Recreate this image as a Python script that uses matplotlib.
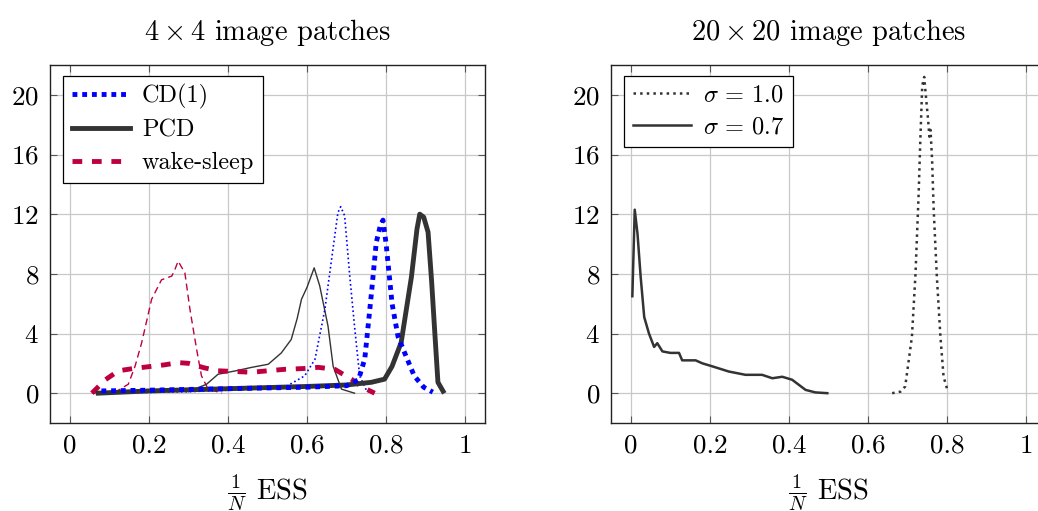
import matplotlib
matplotlib.use('Agg')
import matplotlib.pyplot as plt
import numpy as np

plt.rcParams['font.family'] = 'cmr10'
plt.rcParams['mathtext.fontset'] = 'cm'
plt.rcParams['axes.formatter.use_mathtext'] = True

# ---- data ----
# left panel: 4x4 patches
cd_thick_x = [0.08, 0.2, 0.4, 0.6, 0.7, 0.73, 0.746, 0.763, 0.775, 0.785, 0.792, 0.80, 0.815, 0.83, 0.85, 0.871, 0.895, 0.918]
cd_thick_y = [0.15, 0.2, 0.3, 0.4, 0.5, 0.9, 2.3, 6.75, 10.1, 11.2, 11.6, 10.0, 6.0, 3.8, 2.5, 1.16, 0.4, 0.07]

pcd_thick_x = [0.072, 0.2, 0.4, 0.6, 0.7, 0.763, 0.796, 0.815, 0.838, 0.864, 0.878, 0.885, 0.895, 0.906, 0.915, 0.922, 0.931, 0.944]
pcd_thick_y = [0.0, 0.15, 0.3, 0.45, 0.55, 0.73, 0.94, 1.8, 3.4, 7.8, 11.0, 12.0, 11.8, 10.8, 7.5, 4.5, 0.73, 0.13]

ws_thick_x = [0.056, 0.09, 0.123, 0.16, 0.207, 0.24, 0.274, 0.3, 0.34, 0.375, 0.42, 0.46, 0.5, 0.544, 0.59, 0.628, 0.67, 0.712, 0.74, 0.771]
ws_thick_y = [0.0, 0.9, 1.5, 1.65, 1.8, 1.9, 2.05, 2.0, 1.7, 1.5, 1.45, 1.4, 1.5, 1.6, 1.65, 1.73, 1.6, 0.94, 0.4, 0.0]

cd_thin_x = [0.08, 0.2, 0.3, 0.4, 0.5, 0.544, 0.594, 0.62, 0.645, 0.662, 0.678, 0.685, 0.695, 0.708, 0.72, 0.733, 0.75, 0.76]
cd_thin_y = [0.05, 0.05, 0.1, 0.2, 0.3, 0.4, 1.16, 2.27, 5.6, 8.96, 12.1, 12.5, 11.9, 7.85, 4.5, 1.16, 0.2, 0.05]

pcd_thin_x = [0.30, 0.346, 0.375, 0.42, 0.46, 0.502, 0.535, 0.56, 0.575, 0.586, 0.6, 0.618, 0.632, 0.653, 0.666, 0.687, 0.72]
pcd_thin_y = [0.1, 0.6, 1.27, 1.5, 1.73, 1.94, 2.7, 3.6, 5.0, 6.3, 7.1, 8.4, 7.2, 4.5, 1.8, 0.27, 0.0]

ws_thin_x = [0.056, 0.1, 0.12, 0.148, 0.165, 0.182, 0.207, 0.232, 0.258, 0.266, 0.274, 0.291, 0.304, 0.321, 0.333, 0.35, 0.385]
ws_thin_y = [0.0, 0.05, 0.15, 0.6, 1.8, 3.4, 6.3, 7.6, 7.85, 8.3, 8.85, 8.07, 5.6, 2.9, 1.16, 0.27, 0.0]

# right panel: 20x20 patches
s10_x = [0.661, 0.682, 0.694, 0.711, 0.72, 0.728, 0.732, 0.737, 0.742, 0.747, 0.752, 0.755, 0.758, 0.762, 0.766, 0.774, 0.783, 0.791, 0.802]
s10_y = [0.0, 0.1, 0.45, 3.8, 8.0, 13.4, 16.8, 20.6, 21.2, 19.7, 18.3, 17.2, 17.65, 15.6, 12.3, 7.8, 3.8, 1.1, 0.1]

s07_x = [0.004, 0.01, 0.017, 0.025, 0.034, 0.046, 0.059, 0.067, 0.08, 0.1, 0.122, 0.13, 0.164, 0.181, 0.206, 0.248, 0.29, 0.332, 0.358, 0.383, 0.408, 0.425, 0.442, 0.467, 0.497]
s07_y = [6.5, 12.3, 10.7, 7.8, 5.1, 4.0, 3.1, 3.35, 2.8, 2.7, 2.7, 2.2, 2.2, 2.0, 1.8, 1.45, 1.23, 1.23, 1.0, 1.1, 0.9, 0.56, 0.22, 0.05, 0.0]

xticks = [0, 0.2, 0.4, 0.6, 0.8, 1]
xticklabels = ['0', '0.2', '0.4', '0.6', '0.8', '1']
yticks = [0, 4, 8, 12, 16, 20]

blue = '#0000ff'
dark = '#333333'
crimson = '#bf0040'

fig = plt.figure(figsize=(10.38, 5.11), dpi=100)
ax1 = fig.add_axes([50/1038, 88/511, 435/1038, 358/511])
ax2 = fig.add_axes([611/1038, 88/511, 435/1038, 358/511])

# left
ax1.plot(ws_thin_x, ws_thin_y, color=crimson, lw=1.0, ls=(0, (5, 3)))
ax1.plot(pcd_thin_x, pcd_thin_y, color=dark, lw=1.0)
ax1.plot(cd_thin_x, cd_thin_y, color=blue, lw=1.2, ls=':')
ax1.plot(ws_thick_x, ws_thick_y, color=crimson, lw=3.5, ls=(0, (2, 2)), label='wake-sleep')
ax1.plot(pcd_thick_x, pcd_thick_y, color=dark, lw=3.5, label='PCD')
ax1.plot(cd_thick_x, cd_thick_y, color=blue, lw=3.5, ls=(0, (1, 1)), label='CD(1)')

legend_kw = dict(loc='upper left', fontsize=17.5, fancybox=False, edgecolor='black',
                 framealpha=1, handlelength=2.4, handletextpad=0.5, borderpad=0.35,
                 labelspacing=0.42, borderaxespad=0, bbox_to_anchor=(0.03, 0.97))

h, l = ax1.get_legend_handles_labels()
leg1 = ax1.legend(h[::-1], l[::-1], **legend_kw)

# right
ax2.plot(s10_x, s10_y, color=dark, lw=1.8, ls=':', label=r'$\sigma \,=\, 1.0$')
ax2.plot(s07_x, s07_y, color=dark, lw=1.8, label=r'$\sigma \,=\, 0.7$')
leg2 = ax2.legend(**legend_kw)
for leg in (leg1, leg2):
    leg.get_frame().set_linewidth(0.9)

for ax, title in [(ax1, r'$4 \times 4$ image patches'), (ax2, r'$20 \times 20$ image patches')]:
    ax.set_xlim(-0.05, 1.05)
    ax.set_ylim(-2, 22)
    ax.set_xticks(xticks)
    ax.set_xticklabels(xticklabels)
    ax.set_yticks(yticks)
    ax.grid(True, color='#c8c8c8', lw=0.9)
    ax.set_axisbelow(True)
    ax.tick_params(direction='in', length=5, labelsize=19.5, top=True, right=True,
                   color='#555555', pad=8)
    for s in ax.spines.values():
        s.set_color('#222222')
        s.set_linewidth(1.0)
    ax.set_title(title, fontsize=20.5, pad=18)
    ax.set_xlabel(r'$\frac{1}{N}$ ESS', fontsize=20.5, labelpad=10)

plt.savefig('out.png', dpi=100)
